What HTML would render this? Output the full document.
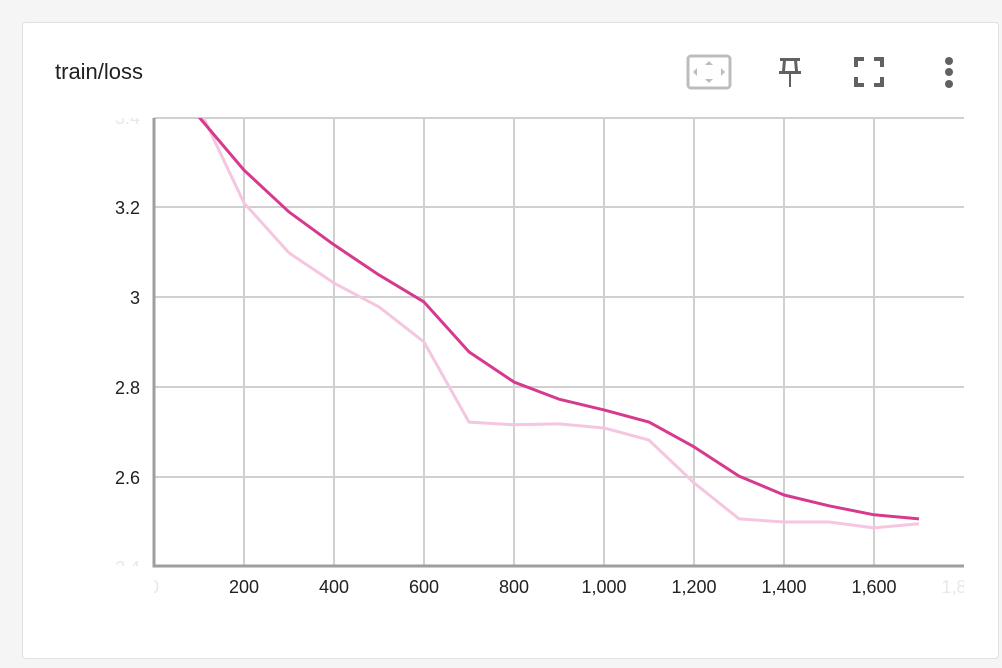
<!DOCTYPE html>
<html><head><meta charset="utf-8"><style>
body{margin:0;width:1002px;height:668px;background:#f5f5f5;font-family:"Liberation Sans",sans-serif;overflow:hidden}
.card{position:absolute;left:22px;top:22px;width:975px;height:635px;background:#fff;border:1px solid #e0e0e0;border-radius:4px}
.title{position:absolute;left:32px;top:36px;font-size:22px;color:#212121}
svg{position:absolute;left:0;top:0}
</style></head><body>
<div class="card">
<div class="title">train/loss</div>
</div>
<svg width="1002" height="668" id="chart">
<g>
<g>
<rect x="688" y="56" width="42" height="32" rx="3" fill="none" stroke="#bdbdbd" stroke-width="3"/>
<path d="M709 61l-4 4h8zM709 83l-4-4h8zM693 72l4-4v8zM725 72l-4-4v8z" fill="#bdbdbd"/>
</g>
<g fill="#616161">
<rect x="780" y="58" width="20" height="3"/><path d="M783 60h3l-1 11h-3zM794 60h3l1 11h-3z"/><rect x="779" y="71" width="22" height="3"/><rect x="789" y="73" width="2" height="14"/>
</g>
<g fill="none" stroke="#616161" stroke-width="4">
<path d="M856 67v-8h8M874 59h8v8M882 77v8h-8M864 85h-8v-8"/>
</g>
<g fill="#616161">
<circle cx="949" cy="61" r="4"/><circle cx="949" cy="72" r="4"/><circle cx="949" cy="84" r="4"/>
</g>
</g>
<defs>
<clipPath id="clip"><rect x="154" y="118" width="810" height="448"/></clipPath>
<clipPath id="xclip"><rect x="154" y="568" width="810" height="40"/></clipPath>
<clipPath id="yclip"><rect x="90" y="118" width="64" height="448"/></clipPath>
</defs>
<g id="grid"></g><g id="lines" clip-path="url(#clip)"></g><g id="axes"></g>
<g id="xlabels" clip-path="url(#xclip)"></g><g id="ylabels" clip-path="url(#yclip)"></g>
</svg>
<script>
const steps=[100,200,300,400,500,600,700,800,900,1000,1100,1200,1300,1400,1500,1600,1700];
const smoothed=[3.40,3.282,3.189,3.116,3.049,2.989,2.878,2.811,2.773,2.749,2.722,2.667,2.602,2.560,2.536,2.516,2.507];
const raw=[3.42,3.209,3.098,3.031,2.978,2.900,2.722,2.716,2.718,2.709,2.682,2.587,2.507,2.500,2.500,2.487,2.496];
const xTicks=[0,200,400,600,800,1000,1200,1400,1600,1800];
const xTickLabels=["0","200","400","600","800","1,000","1,200","1,400","1,600","1,800"];
const yTicks=[2.4,2.6,2.8,3.0,3.2,3.4];
const yTickLabels=["2.4","2.6","2.8","3","3.2","3.4"];
const X=v=>154+v*0.45, Y=v=>567-(v-2.4)*450;
const NS="http://www.w3.org/2000/svg";
function mk(p,t,a){const e=document.createElementNS(NS,t);for(const k in a)e.setAttribute(k,a[k]);p.appendChild(e);return e;}
const grid=document.getElementById('grid'),axes=document.getElementById('axes'),lines=document.getElementById('lines');
const xl=document.getElementById('xlabels'),yl=document.getElementById('ylabels');
xTicks.forEach((t,i)=>{
 if(t>0&&t<1800){const l=mk(grid,'line',{x1:X(t),x2:X(t),y1:118,y2:566,stroke:'#d0d0d0','stroke-width':2});
 
 }
 const edge=(t===0||t===1800);
 const tx=mk(xl,'text',{x:X(t),y:593,'text-anchor':'middle','font-size':18,fill:edge?'#e8e8e8':'#212121','font-family':'Liberation Sans'});
 tx.textContent=xTickLabels[i];
 
 
});
yTicks.forEach((t,i)=>{
 if(t>2.41&&t<3.39){const l=mk(grid,'line',{x1:154,x2:964,y1:Y(t),y2:Y(t),stroke:'#d0d0d0','stroke-width':2});
 
 }
 const edge=(t<2.41||t>3.39);
 const tx=mk(yl,'text',{x:140,y:Y(t)+7,'text-anchor':'end','font-size':18,fill:edge?'#e8e8e8':'#212121','font-family':'Liberation Sans'});
 tx.textContent=yTickLabels[i];
 
 
});
const topLine=mk(grid,'line',{x1:154,x2:964,y1:118,y2:118,stroke:'#d0d0d0','stroke-width':2});


const ax=mk(axes,'path',{d:'M154 118V566H964',fill:'none',stroke:'#9e9e9e','stroke-width':3});


const pr=mk(lines,'polyline',{points:steps.map((s,i)=>X(s)+','+Y(raw[i])).join(' '),fill:'none',stroke:'#f5c6e0','stroke-width':3,'stroke-linejoin':'round'});


const ps=mk(lines,'polyline',{points:steps.map((s,i)=>X(s)+','+Y(smoothed[i])).join(' '),fill:'none',stroke:'#d63a8f','stroke-width':3,'stroke-linejoin':'round'});


</script>
</body></html>
